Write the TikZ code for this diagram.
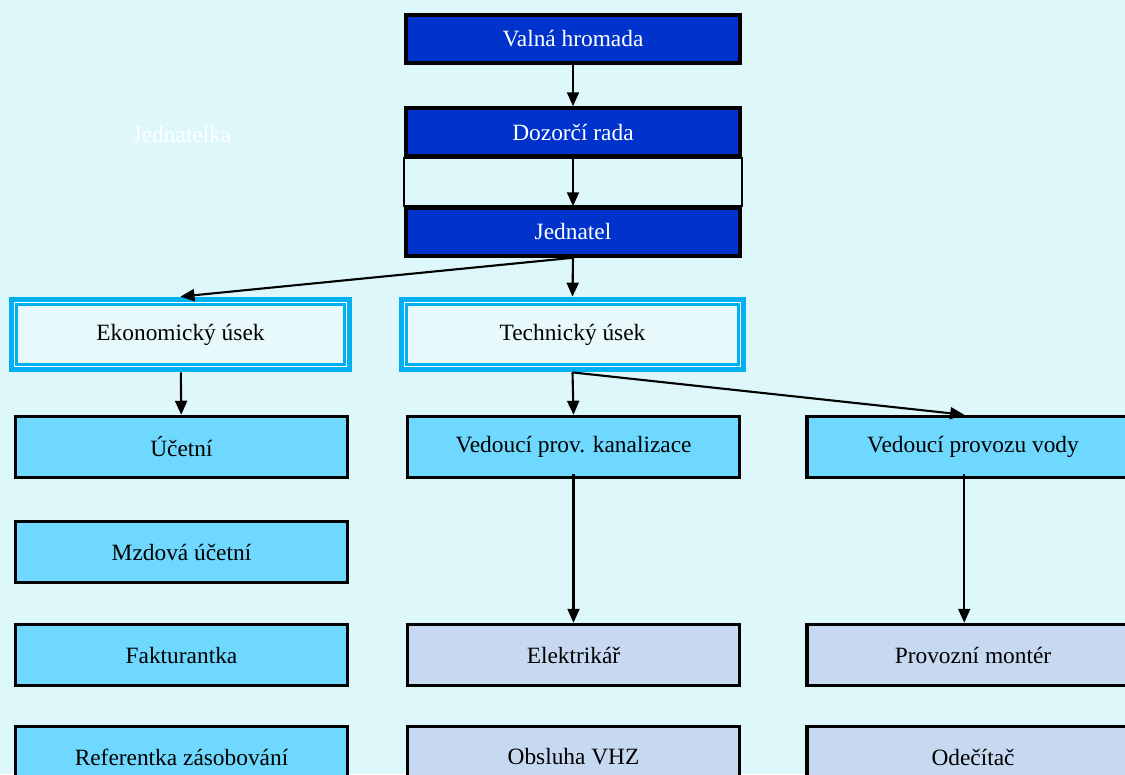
\documentclass[tikz,border=0pt]{standalone}
\usepackage{fontspec}
\setmainfont{Liberation Serif}
\usepackage{tikz}
\usetikzlibrary{arrows.meta, positioning, calc}

\definecolor{bgwater}{RGB}{221,247,250}
\definecolor{boardblue}{RGB}{0,51,204}
\definecolor{sectcyan}{RGB}{0,176,240}
\definecolor{deptcyan}{RGB}{110,216,254}
\definecolor{staffgrey}{RGB}{198,217,241}

\begin{document}
\begin{tikzpicture}[
  x=0.02cm, y=-0.02cm,
  >={Triangle[length=2.8mm, width=2.4mm]},
  every node/.style={font=\fontsize{13.3}{15}\selectfont},
  board/.style={draw, line width=2pt, fill=boardblue, text=white, minimum width=6.68cm, minimum height=0.96cm},
  sectbox/.style={draw=sectcyan, line width=5.6pt, fill=bgwater!70!white, minimum height=1.32cm},
  dept/.style={draw, line width=2pt, fill=deptcyan, minimum width=6.64cm, minimum height=1.22cm},
  staff/.style={dept, fill=staffgrey},
  innerline/.style={draw=white, double=sectcyan, double distance=0.5pt, line width=0.4pt},
  frameline/.style={draw, line width=1.2pt},
  link/.style={->, line width=1.2pt}
]

\useasboundingbox (0,0) rectangle (1125,774);
\clip (0,0) rectangle (1125,774);
\fill[bgwater] (0,0) rectangle (1125,774);

% Board and management
\node[board]  (valna)    at (573,39)  {Valná hromada};
\node[board]  (dozor)    at (573,132) {Dozorčí rada};
\node[board]  (jednatel) at (573,232) {Jednatel};
\node[text=white] (jednatelka) at (182,135) {Jednatelka};

% Sections
\node[sectbox, minimum width=6.68cm] (ekon) at (180.5,334.5) {Ekonomický úsek};
\node[sectbox, minimum width=6.76cm] (tech) at (572.5,334.5) {Technický úsek};
\foreach \s in {ekon, tech}
  \draw[innerline] ([shift={(6.5,6.5)}]\s.north west) rectangle ([shift={(-6.5,-6.5)}]\s.south east);

% Economic column
\node[dept]  (ucetni) at (181.5,447) {Účetní};
\node[dept]  (mzdova) at (181.5,552) {Mzdová účetní};
\node[dept]  (faktur) at (181.5,655) {Fakturantka};
\node[dept]  (refer)  at (181.5,757) {Referentka zásobování};

% Technical columns
\node[dept]  (kanal)  at (573.5,447) {Vedoucí prov. kanalizace};
\node[staff] (elektr) at (573.5,655) {Elektrikář};
\node[staff] (obsluha) at (573.5,757) {Obsluha VHZ};

\node[dept]  (vody)   at (973,447) {Vedoucí provozu vody};
\node[staff] (monter) at (973,655) {Provozní montér};
\node[staff] (odecit) at (973,757) {Odečítač};

% Flows
\draw[frameline] (dozor.south west) rectangle (jednatel.north east);
\draw[link] (valna) -- (dozor);
\draw[link] (dozor) -- (jednatel);
\draw[link] (jednatel.south) -- (ekon.north);
\draw[link] (jednatel.south) -- (tech.north);
\draw[link] (ekon) -- (ucetni);
\draw[link] (tech.south) -- (kanal.north);
\draw[link] (tech.south) -- ([xshift=-5]vody.north);
\draw[link] ([yshift=3]kanal.south) -- (elektr.north);
\draw[link] ([xshift=-5,yshift=3]vody.south) -- ([xshift=-5]monter.north);
\end{tikzpicture}
\end{document}
